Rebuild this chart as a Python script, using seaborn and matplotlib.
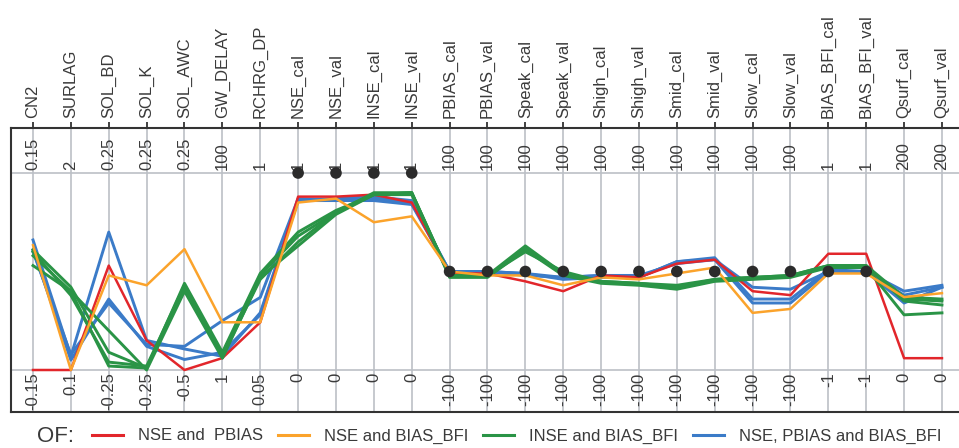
import numpy as np
import pandas as pd
import matplotlib
matplotlib.use('Agg')
import matplotlib.pyplot as plt
import seaborn as sns
from matplotlib.lines import Line2D

# ---------------- data ----------------
params = ['CN2', 'SURLAG', 'SOL_BD', 'SOL_K', 'SOL_AWC', 'GW_DELAY', 'RCHRG_DP',
          'NSE_cal', 'NSE_val', 'INSE_cal', 'INSE_val', 'PBIAS_cal', 'PBIAS_val',
          'Speak_cal', 'Speak_val', 'Shigh_cal', 'Shigh_val', 'Smid_cal', 'Smid_val',
          'Slow_cal', 'Slow_val', 'BIAS_BFI_cal', 'BIAS_BFI_val', 'Qsurf_cal', 'Qsurf_val']
axis_min = [-0.15, 0.1, -0.25, -0.25, -0.5, 1, 0.05, 0, 0, 0, 0,
            -100, -100, -100, -100, -100, -100, -100, -100, -100, -100, -1, -1, 0, 0]
axis_max = [0.15, 2, 0.25, 0.25, 0.25, 100, 1, 1, 1, 1, 1,
            100, 100, 100, 100, 100, 100, 100, 100, 100, 100, 1, 1, 200, 200]
upper_labels = ['0.15', '2', '0.25', '0.25', '0.25', '100', '1', '1', '1', '1', '1',
                '100', '100', '100', '100', '100', '100', '100', '100', '100', '100',
                '1', '1', '200', '200']
lower_labels = ['-0.15', '0.1', '-0.25', '-0.25', '-0.5', '1', '0.05', '0', '0', '0', '0',
                '-100', '-100', '-100', '-100', '-100', '-100', '-100', '-100', '-100', '-100',
                '-1', '-1', '0', '0']
# ideal values of the objective functions (black dots)
ideal_axes = ['NSE_cal', 'NSE_val', 'INSE_cal', 'INSE_val', 'PBIAS_cal', 'PBIAS_val',
              'Speak_cal', 'Speak_val', 'Shigh_cal', 'Shigh_val', 'Smid_cal', 'Smid_val',
              'Slow_cal', 'Slow_val', 'BIAS_BFI_cal', 'BIAS_BFI_val']
ideal_values = [1, 1, 1, 1, 0, 0, 0, 0, 0, 0, 0, 0, 0, 0, 0, 0]

groups = ['NSE and  PBIAS', 'NSE and BIAS_BFI', 'INSE and BIAS_BFI', 'NSE, PBIAS and BIAS_BFI']
colors = ['#e2262b', '#fba32b', '#2a9446', '#3b7bc8']

red_runs = [
    [-0.15, 0.1, 0.015, -0.175, -0.5, 7, 0.28, 0.88, 0.88, 0.89, 0.85,
     -2, -2, -10, -20, -4, -6, 8, 12, -20, -24, 0.18, 0.18, 12, 12],
]
orange_runs = [
    [0.04, 0.1, -0.01, -0.035, -0.04, 25, 0.28, 0.85, 0.87, 0.75, 0.78,
     0, -4, -4, -14, -6, -8, -2, 4, -42, -38, -0.02, -0.02, 74, 78],
]
green_runs = [
    [0.033, 0.90, -0.205, -0.245, -0.17, 9.9, 0.516, 0.70, 0.81, 0.89, 0.90,
     -4, -4, 26, -2, -10, -12, -16, -8, -6, -4, 0.06, 0.06, 74, 72],
    [0.009, 0.86, -0.24, -0.245, -0.185, 7.9, 0.487, 0.65, 0.80, 0.90, 0.90,
     -6, -6, 22, -4, -12, -14, -18, -10, -8, -6, 0.04, 0.04, 56, 58],
    [0.024, 0.86, -0.15, -0.25, -0.20, 6.9, 0.497, 0.63, 0.79, 0.89, 0.89,
     -4, -4, 20, 0, -10, -12, -14, -8, -6, -4, 0.06, 0.06, 70, 66],
    [0.030, 0.82, -0.23, -0.24, -0.178, 8.9, 0.506, 0.68, 0.80, 0.89, 0.90,
     -5, -5, 24, -3, -11, -13, -17, -9, -7, -5, 0.05, 0.05, 72, 70],
]
blue_runs = [
    [0.048, 0.233, 0.10, -0.175, -0.42, 7.9, 0.326, 0.86, 0.86, 0.86, 0.84,
     0, 0, -2, -8, -6, -6, 10, 14, -28, -28, 0.02, 0.0, 80, 86],
    [0.033, 0.195, -0.07, -0.19, -0.46, 9.9, 0.316, 0.86, 0.87, 0.88, 0.86,
     0, 0, -2, -6, -4, -4, 8, 12, -32, -32, 0.0, 0.0, 76, 84],
    [0.030, 0.25, -0.08, -0.185, -0.41, 25.8, 0.40, 0.87, 0.86, 0.87, 0.85,
     0, 0, -4, -6, -4, -6, 10, 12, -16, -18, 0.0, 0.0, 68, 84],
]

# ---------------- tidy frame (normalised parallel coordinates) ----------------
rows = []
for grp, runs in zip(groups, [red_runs, orange_runs, green_runs, blue_runs]):
    for r, run in enumerate(runs):
        for k, v in enumerate(run):
            rows.append({'group': grp, 'run': f'{grp}_{r}', 'axis': k,
                         'norm': (v - axis_min[k]) / (axis_max[k] - axis_min[k])})
df = pd.DataFrame(rows)

ideal_idx = [params.index(a) for a in ideal_axes]
ideal_df = pd.DataFrame({
    'axis': ideal_idx,
    'norm': [(v - axis_min[k]) / (axis_max[k] - axis_min[k]) for k, v in zip(ideal_idx, ideal_values)],
})

# ---------------- figure ----------------
plt.rcParams['font.family'] = ['Liberation Sans', 'DejaVu Sans']
txt_col = '#3a3a3a'
W, H = 959, 448
fig = plt.figure(figsize=(W / 100, H / 100), dpi=100)
ax = fig.add_axes([11 / W, (H - 412) / H, (W - 11) / W, 284 / H])

n = len(params)
ax.set_xlim(-0.581, 24.45)
ax.set_ylim(-0.2132, 1.2284)

grid_col = '#bcc0c6'
for k in range(n):
    ax.axvline(k, color=grid_col, lw=1.2, zorder=0)
for yv in (0, 1):
    ax.axhline(yv, color=grid_col, lw=1.2, zorder=0)

draw_order = [3, 0, 2, 1]
widths = {0: 1.8, 1: 1.8, 2: 2.1, 3: 2.1}
for gi in draw_order:
    sub = df[df['group'] == groups[gi]]
    sns.lineplot(data=sub, x='axis', y='norm', units='run', estimator=None, sort=False,
                 color=colors[gi], lw=widths[gi], ax=ax, legend=False, zorder=3)

sns.scatterplot(data=ideal_df, x='axis', y='norm', color='#2b2b2b', s=70,
                edgecolor='none', ax=ax, zorder=5, legend=False)

# spines and ticks
for s in ('left', 'top', 'bottom'):
    ax.spines[s].set_color('#333333')
    ax.spines[s].set_linewidth(1.5)
ax.spines['right'].set_visible(False)
ax.set_xticks(range(n))
ax.set_yticks([])
ax.tick_params(axis='x', top=True, bottom=False, labelbottom=False, labeltop=False,
               direction='out', length=4, width=1.3, color='#333333')
ax.set_xlabel('')
ax.set_ylabel('')

fs = 12
for k in range(n):
    ax.text(k, 1.015, upper_labels[k], rotation=90, ha='center', va='bottom',
            fontsize=fs, color=txt_col)
    ax.text(k, -0.012, lower_labels[k], rotation=90, ha='center', va='top',
            fontsize=fs, color=txt_col)
    ax.text(k, 1.2284 + 10 / 197, params[k], rotation=90, ha='center', va='bottom',
            fontsize=fs, color=txt_col, clip_on=False)

# legend
fig.text(37 / W, (H - 436) / H, 'OF:', fontsize=16, color=txt_col, ha='left', va='center')
handles = [Line2D([], [], color=c, lw=2.2) for c in colors]
leg = fig.legend(handles, groups, loc='center left', bbox_to_anchor=(92 / W, (H - 436) / H),
                 ncol=4, frameon=False, fontsize=fs, handlelength=1.86, handletextpad=0.9,
                 columnspacing=0.9, borderpad=0, borderaxespad=0)
for t in leg.get_texts():
    t.set_color(txt_col)

fig.savefig('out.png', dpi=100)
